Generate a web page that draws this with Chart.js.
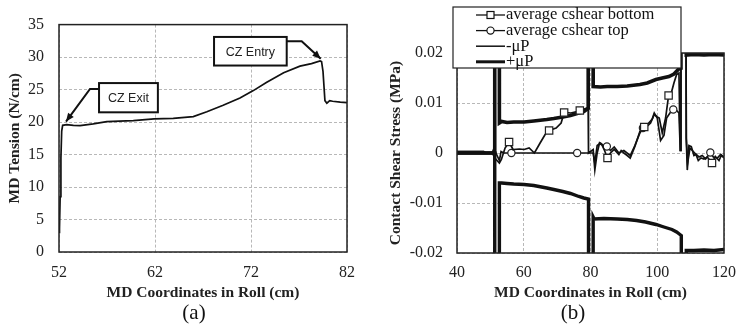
<!DOCTYPE html>
<html>
<head>
<meta charset="utf-8">
<script src="https://cdn.jsdelivr.net/npm/chart.js@4.4.1/dist/chart.umd.min.js"></script>
<style>
  html, body { margin: 0; padding: 0; background: #fff; }
  .panel { position: absolute; top: 0; width: 373px; height: 330px; }
</style>
</head>
<body>
<div class="panel" style="left:0"><canvas id="tension" width="373" height="330"></canvas></div>
<div class="panel" style="left:373px"><canvas id="shear" width="373" height="330"></canvas></div>
<script>
// (a) MD tension along the roll
var tensionX = [52.0, 52.05, 52.12, 52.2, 52.28, 52.38, 52.8, 53.5, 54.2, 55.57, 56.97, 58.3, 59.74, 61.9, 63.9, 65.99, 67.4, 69.1, 70.85, 72.24, 73.6, 75.4, 77.1, 78.3, 79.2, 79.35, 79.5, 79.7, 79.9, 80.2, 80.5, 81.3, 82];
var tensionY = [3.0, 3.6, 8.5, 14.5, 18.6, 19.5, 19.6, 19.5, 19.45, 19.73, 20.08, 20.15, 20.23, 20.48, 20.58, 20.83, 21.58, 22.58, 23.7, 24.84, 26.1, 27.6, 28.6, 29.0, 29.4, 29.3, 27.8, 23.3, 22.9, 23.3, 23.2, 23.07, 22.98];
var tensionXTicks = [52, 62, 72, 82];
var tensionYTicks = [0, 5, 10, 15, 20, 25, 30, 35];

// (b) contact shear stress
var bottomX = [40, 44, 48, 48.5, 50.5, 51.0, 51.3, 52.7, 53.3, 54.4, 55.6, 56.8, 58.7, 60.1, 61.6, 63.2, 64.9, 66.4, 67.6, 69.7, 71.2, 72.1, 74.1, 76.0, 76.8, 78.9, 79.3, 79.4, 80.8, 81.3, 82.0, 82.7, 83.5, 84.2, 85.1, 86.0, 87.1, 88.5, 89.2, 90.0, 91.0, 91.9, 93.3, 94.8, 96.1, 97.2, 98.0, 99.1, 100.0, 100.6, 101.5, 102.5, 103.4, 104.2, 105.0, 105.8, 106.5, 106.9, 107.1, 108.6, 108.7, 109.0, 109.5, 110.2, 111.0, 111.6, 112.3, 113.1, 114.0, 115.0, 116.4, 117.4, 118.5, 119.2, 120];
var bottomY = [0.0003, 0.0003, 0.0003, 0, 0, 0.0008, -0.001, -0.002, -0.0013, 0.001, 0.0022, 0.0007, 0.0008, 0.0007, 0.001, 0, 0.002, 0.0037, 0.0045, 0.005, 0.006, 0.0081, 0.008, 0.0083, 0.0085, 0.009, 0.009, 0, 0.0007, -0.0034, 0, 0.002, 0.0015, 0.0005, -0.001, 0, 0.0007, -0.0003, 0.0005, 0, -0.0005, -0.001, 0.0013, 0.0043, 0.0052, 0.0055, 0.006, 0.0077, 0.0072, 0.007, 0.004, 0.007, 0.0115, 0.012, 0.014, 0.0157, 0.016, 0.0005, 0.03, 0.03, 0.0027, -0.0034, 0.0015, 0.0013, -0.0005, -0.0003, -0.0015, -0.001, -0.0012, -0.0008, -0.002, -0.0007, -0.0015, -0.0005, -0.001];
var bottomMarkX = [55.6, 67.6, 72.1, 76.8, 85.1, 96.1, 103.4, 116.4];

var topX = [40, 44, 48, 48.5, 50.5, 51.0, 51.3, 52.7, 53.2, 54.0, 56.3, 60, 65, 70, 76.0, 79.3, 80.8, 81.3, 82.0, 83.0, 84.2, 84.9, 86.0, 87.1, 88.5, 90.0, 91.9, 93.3, 94.8, 95.7, 97.2, 98.5, 99.1, 100.0, 101.0, 102.0, 102.8, 104.0, 104.8, 105.8, 106.5, 106.9, 107.1, 108.6, 108.7, 109.1, 109.8, 110.5, 111.5, 112.5, 113.5, 114.5, 115.9, 116.8, 118.0, 119.0, 120];
var topY = [0.0003, 0.0003, 0.0003, 0, 0, -0.0005, 0.0005, -0.0015, 0.0003, 0, 0, 0, 0, 0, 0, 0, 0, -0.002, 0.0015, 0.002, 0.0013, 0.0013, 0.0005, 0.0012, 0, 0.0005, -0.0005, 0.0015, 0.004, 0.005, 0.0058, 0.0068, 0.008, 0.007, 0.0025, 0.0035, 0.007, 0.0082, 0.0087, 0.0085, 0.008, 0.0005, 0.03, 0.03, 0.003, -0.002, 0.001, 0.0005, -0.0002, -0.0008, -0.0005, -0.0012, 0.0001, -0.0008, -0.001, -0.0003, -0.0008];
var topMarkX = [56.3, 76.0, 84.9, 95.7, 104.8, 115.9];

var minusX = [40, 51.3, 51.31, 52.69, 52.7, 53.4, 55.0, 57.0, 60.1, 63.0, 66.9, 69.0, 71.7, 74.0, 76.5, 78.0, 79.4, 79.41, 80.79, 80.8, 81.1, 84.0, 88.0, 91.0, 93.8, 96.5, 99.6, 102.0, 104.4, 105.8, 106.8, 107.2, 107.21, 108.69, 108.7, 111.0, 114.0, 117.0, 120];
var minusY = [0, 0, -0.03, -0.03, -0.006, -0.006, -0.0061, -0.0062, -0.0063, -0.0065, -0.007, -0.0073, -0.0077, -0.0081, -0.0087, -0.009, -0.0092, -0.03, -0.03, -0.0128, -0.0132, -0.0131, -0.0132, -0.0133, -0.0135, -0.0138, -0.0143, -0.0148, -0.0153, -0.0158, -0.0163, -0.0165, -0.03, -0.03, -0.0195, -0.0195, -0.0194, -0.0195, -0.0193];

var plusX = [40, 51.3, 51.31, 52.69, 52.7, 53.4, 55.0, 57.0, 60.1, 63.0, 66.9, 69.0, 71.7, 74.0, 76.5, 78.0, 78.9, 79.3, 79.31, 80.79, 80.8, 83.0, 85.0, 88.0, 91.0, 94.8, 97.0, 99.6, 101.5, 103.5, 105.0, 106.3, 107.1, 107.11, 108.69, 108.7, 111.0, 114.0, 117.0, 120];
var plusY = [0, 0, 0.03, 0.03, 0.006, 0.0063, 0.0061, 0.0062, 0.0062, 0.0064, 0.0067, 0.0069, 0.0072, 0.0075, 0.008, 0.0083, 0.0087, 0.009, 0.03, 0.03, 0.0133, 0.0132, 0.0133, 0.0133, 0.0134, 0.0137, 0.014, 0.0147, 0.015, 0.0153, 0.0158, 0.0167, 0.017, 0.03, 0.03, 0.0196, 0.0197, 0.0196, 0.0197, 0.0196];

var shearXTicks = [40, 60, 80, 100, 120];
var shearYTicks = [-0.02, -0.01, 0, 0.01, 0.02];
var shearYLabels = ['-0.02', '-0.01', '0', '0.01', '0.02'];

var serif = "'Liberation Serif', 'Times New Roman', serif";
Chart.defaults.font.family = serif;
Chart.defaults.color = '#222';

function points(xs, ys) {
  return xs.map(function (x, i) { return { x: x, y: ys[i] }; });
}

function fixedTicks(values) {
  return function (scale) {
    scale.ticks = values.map(function (v) { return { value: v }; });
  };
}

function markerRadius(list, r) {
  return function (ctx) {
    return ctx.raw && list.indexOf(ctx.raw.x) >= 0 ? r : 0;
  };
}

// box around the plot area
var framePlugin = {
  id: 'frame',
  afterDatasetsDraw: function (chart) {
    var a = chart.chartArea, ctx = chart.ctx;
    ctx.save();
    ctx.strokeStyle = '#222';
    ctx.lineWidth = 1.5;
    ctx.strokeRect(a.left, a.top, a.right - a.left, a.bottom - a.top);
    ctx.restore();
  }
};

var captionPlugin = {
  id: 'caption',
  afterDraw: function (chart, args, o) {
    var ctx = chart.ctx;
    ctx.save();
    ctx.font = '21px ' + serif;
    ctx.fillStyle = '#111';
    ctx.textAlign = 'center';
    ctx.textBaseline = 'middle';
    ctx.fillText(o.text, o.x, o.y);
    ctx.restore();
  }
};

// callout boxes with arrows, placed in data units
var notesPlugin = {
  id: 'notes',
  afterDraw: function (chart, args, o) {
    var xs = chart.scales.x, ys = chart.scales.y, ctx = chart.ctx;
    o.items.forEach(function (n) {
      var path = n.path.map(function (p) {
        return [xs.getPixelForValue(p[0]), ys.getPixelForValue(p[1])];
      });
      ctx.save();
      ctx.strokeStyle = '#111';
      ctx.fillStyle = '#111';
      ctx.lineWidth = 2;
      ctx.beginPath();
      path.forEach(function (p, i) {
        if (i === 0) ctx.moveTo(p[0], p[1]); else ctx.lineTo(p[0], p[1]);
      });
      ctx.stroke();
      var tip = path[path.length - 1], prev = path[path.length - 2];
      var ang = Math.atan2(tip[1] - prev[1], tip[0] - prev[0]);
      ctx.beginPath();
      ctx.moveTo(tip[0], tip[1]);
      ctx.lineTo(tip[0] - 9 * Math.cos(ang - 0.4), tip[1] - 9 * Math.sin(ang - 0.4));
      ctx.lineTo(tip[0] - 9 * Math.cos(ang + 0.4), tip[1] - 9 * Math.sin(ang + 0.4));
      ctx.closePath();
      ctx.fill();

      var x1 = xs.getPixelForValue(n.box[0]), y1 = ys.getPixelForValue(n.box[1]);
      var x2 = xs.getPixelForValue(n.box[2]), y2 = ys.getPixelForValue(n.box[3]);
      ctx.fillStyle = '#fff';
      ctx.fillRect(x1, y1, x2 - x1, y2 - y1);
      ctx.strokeRect(x1, y1, x2 - x1, y2 - y1);
      ctx.fillStyle = '#222';
      ctx.font = "12.5px 'Liberation Sans', Arial, sans-serif";
      ctx.textAlign = 'center';
      ctx.textBaseline = 'middle';
      ctx.fillText(n.text, (x1 + x2) / 2, (y1 + y2) / 2 + 1);
      ctx.restore();
    });
  }
};

// legend drawn as a framed box overlapping the plot top
var boxLegendPlugin = {
  id: 'boxLegend',
  afterDraw: function (chart, args, o) {
    var ctx = chart.ctx;
    ctx.save();
    ctx.fillStyle = '#fff';
    ctx.fillRect(o.left, o.top, o.width, o.height);
    ctx.strokeStyle = '#222';
    ctx.lineWidth = 1.2;
    ctx.strokeRect(o.left, o.top, o.width, o.height);
    ctx.font = '16.5px ' + serif;
    ctx.textBaseline = 'middle';
    chart.data.datasets.forEach(function (ds, i) {
      var y = o.top + o.firstRow + i * o.rowGap;
      var x0 = o.sampleX, x1 = o.sampleX + o.sampleLen, xm = (x0 + x1) / 2;
      ctx.strokeStyle = '#111';
      ctx.lineWidth = ds.legendWidth;
      ctx.beginPath();
      ctx.moveTo(x0, y);
      ctx.lineTo(x1, y);
      ctx.stroke();
      ctx.lineWidth = 1.2;
      ctx.fillStyle = '#fff';
      if (ds.pointStyle === 'rect') {
        ctx.fillRect(xm - 3.5, y - 3.5, 7, 7);
        ctx.strokeRect(xm - 3.5, y - 3.5, 7, 7);
      } else if (ds.pointStyle === 'circle') {
        ctx.beginPath();
        ctx.arc(xm, y, 3.6, 0, Math.PI * 2);
        ctx.fill();
        ctx.stroke();
      }
      ctx.fillStyle = '#111';
      ctx.fillText(ds.label, x1 + 1, y);
    });
    ctx.restore();
  }
};

var tensionNotes = [
  { text: 'CZ Exit', box: [56.17, 26.0, 62.3, 21.5], path: [[56.17, 25.1], [55.23, 25.1], [52.73, 20.08]] },
  { text: 'CZ Entry', box: [68.15, 33.1, 75.72, 28.7], path: [[75.72, 32.45], [77.28, 32.45], [79.26, 29.74]] }
];

var gridStyle = { color: '#b8b8b8', drawTicks: false };
var gridBorder = { display: false, dash: [3, 2] };

new Chart(document.getElementById('tension'), {
  type: 'line',
  data: {
    datasets: [{
      label: 'MD Tension',
      data: points(tensionX, tensionY),
      borderColor: '#111',
      borderWidth: 1.7,
      pointRadius: 0,
      tension: 0
    }]
  },
  options: {
    responsive: false,
    animation: false,
    layout: { padding: { left: 2, right: 26, top: 19, bottom: 29 } },
    plugins: {
      legend: { display: false },
      tooltip: { enabled: false },
      caption: { text: '(a)', x: 194, y: 313 },
      notes: { items: tensionNotes }
    },
    scales: {
      x: {
        type: 'linear',
        min: 52,
        max: 82,
        afterBuildTicks: fixedTicks(tensionXTicks),
        afterFit: function (s) { s.height = 49; },
        grid: gridStyle,
        border: gridBorder,
        ticks: { padding: 11, font: { size: 16 }, color: '#222', maxRotation: 0 },
        title: { display: true, text: 'MD Coordinates in Roll (cm)', color: '#222', padding: 0, font: { size: 15.5, weight: 'bold', lineHeight: 1 } }
      },
      y: {
        min: 0,
        max: 35,
        afterBuildTicks: fixedTicks(tensionYTicks),
        afterFit: function (s) { s.width = 57; },
        grid: gridStyle,
        border: gridBorder,
        ticks: { padding: 15, font: { size: 16 }, color: '#222' },
        title: { display: true, text: 'MD Tension (N/cm)', color: '#222', font: { size: 15.5, weight: 'bold' } }
      }
    }
  },
  plugins: [framePlugin, captionPlugin, notesPlugin]
});

new Chart(document.getElementById('shear'), {
  type: 'line',
  data: {
    datasets: [{
      label: 'average cshear bottom',
      data: points(bottomX, bottomY),
      borderColor: '#111',
      borderWidth: 1.7,
      legendWidth: 1.3,
      pointStyle: 'rect',
      pointRadius: markerRadius(bottomMarkX, 5.2),
      pointBackgroundColor: '#fff',
      pointBorderColor: '#222',
      pointBorderWidth: 1.2
    }, {
      label: 'average cshear top',
      data: points(topX, topY),
      borderColor: '#111',
      borderWidth: 1.7,
      legendWidth: 1.3,
      pointStyle: 'circle',
      pointRadius: markerRadius(topMarkX, 3.6),
      pointBackgroundColor: '#fff',
      pointBorderColor: '#222',
      pointBorderWidth: 1.2
    }, {
      label: '-μP',
      data: points(minusX, minusY),
      borderColor: '#111',
      borderWidth: 3.4,
      legendWidth: 1.5,
      pointRadius: 0
    }, {
      label: '+μP',
      data: points(plusX, plusY),
      borderColor: '#111',
      borderWidth: 3.6,
      legendWidth: 3,
      pointRadius: 0
    }]
  },
  options: {
    responsive: false,
    animation: false,
    layout: { padding: { left: 10, right: 12, top: 53, bottom: 29 } },
    plugins: {
      legend: { display: false },
      tooltip: { enabled: false },
      caption: { text: '(b)', x: 200, y: 313 },
      boxLegend: { left: 80, top: 7, width: 228, height: 61, firstRow: 8, rowGap: 15.6, sampleX: 103, sampleLen: 29 }
    },
    scales: {
      x: {
        type: 'linear',
        min: 40,
        max: 120,
        afterBuildTicks: fixedTicks(shearXTicks),
        afterFit: function (s) { s.height = 48; },
        grid: gridStyle,
        border: gridBorder,
        ticks: { padding: 10, font: { size: 16 }, color: '#222', maxRotation: 0 },
        title: { display: true, text: 'MD Coordinates in Roll (cm)', color: '#222', padding: 0, font: { size: 15.5, weight: 'bold', lineHeight: 1 } }
      },
      y: {
        min: -0.02,
        max: 0.02,
        afterBuildTicks: fixedTicks(shearYTicks),
        afterFit: function (s) { s.width = 74; },
        grid: gridStyle,
        border: gridBorder,
        ticks: {
          padding: 14,
          font: { size: 16 },
          color: '#222',
          callback: function (value, index) { return shearYLabels[index]; }
        },
        title: { display: true, text: 'Contact Shear Stress (MPa)', color: '#222', font: { size: 15.5, weight: 'bold' } }
      }
    }
  },
  plugins: [framePlugin, captionPlugin, boxLegendPlugin]
});
</script>
</body>
</html>
